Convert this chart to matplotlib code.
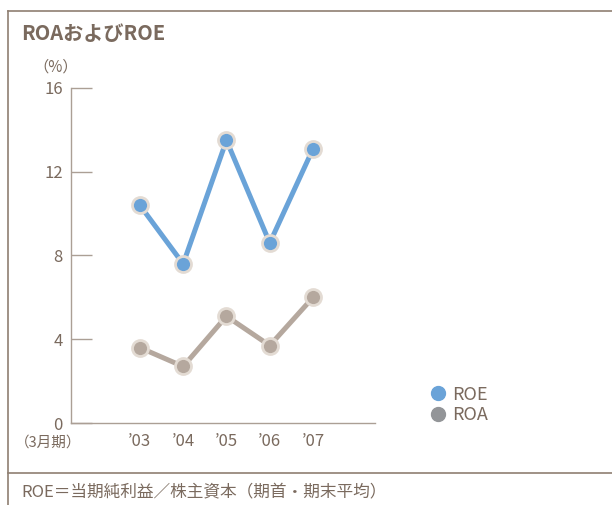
import matplotlib.pyplot as plt
from matplotlib.lines import Line2D

plt.rcParams['font.family'] = ['Noto Sans CJK JP', 'DejaVu Sans']

# fiscal years (March year-end) and ratios in %
years = ["’03", "’04", "’05", "’06", "’07"]
roe = [10.4, 7.6, 13.5, 8.6, 13.1]
roa = [3.6, 2.7, 5.1, 3.7, 6.0]
yticks = [0, 4, 8, 12, 16]

text_col = '#7a6a5e'
frame_col = '#8f7f72'
axis_col = '#ab9f95'
roe_col = '#6aa3d8'
roa_col = '#b5a89e'
edge_col = '#e3dbd3'

fig = plt.figure(figsize=(6.12, 5.05), dpi=100)

# outer frame lines
fig.add_artist(Line2D([8/612, 8/612], [0, 1 - 11/505], color=frame_col, lw=1.2))
fig.add_artist(Line2D([8/612, 1], [1 - 11/505, 1 - 11/505], color=frame_col, lw=1.2))
fig.add_artist(Line2D([8/612, 1], [1 - 473/505, 1 - 473/505], color=frame_col, lw=1.2))

fig.text(21/612, 1 - 33/505, 'ROAおよびROE', fontsize=14.5, fontweight='bold',
         color=text_col, va='center', ha='left')
fig.text(21/612, 1 - 492/505, 'ROE＝当期純利益／株主資本（期首・期末平均）', fontsize=12,
         color=text_col, va='center', ha='left')

ax = fig.add_axes([71/612, 1 - 423/505, (375 - 71)/612, (423 - 88)/505])
x = range(len(years))
ax.plot(x, roe, color=roe_col, lw=3.6, marker='o', ms=11.5,
        markerfacecolor=roe_col, markeredgecolor=edge_col, markeredgewidth=2, zorder=3)
ax.plot(x, roa, color=roa_col, lw=3.6, marker='o', ms=11.5,
        markerfacecolor=roa_col, markeredgecolor=edge_col, markeredgewidth=2, zorder=3)

ax.set_xlim(-1.59, 5.43)
ax.set_ylim(0, 16)
ax.set_yticks(yticks)
ax.set_xticks(list(x))
ax.set_xticklabels(years)
for s in ['top', 'right']:
    ax.spines[s].set_visible(False)
for s in ['left', 'bottom']:
    ax.spines[s].set_color(axis_col)
    ax.spines[s].set_linewidth(1)
ax.tick_params(axis='y', direction='in', length=15, width=1, color=axis_col,
               labelcolor=text_col, labelsize=12, pad=6)
ax.tick_params(axis='x', length=0, labelcolor=text_col, labelsize=12, pad=7)

fig.text(56/612, 1 - 67/505, '（%）', fontsize=11, color=text_col, ha='center', va='center')
fig.text(48/612, 1 - 443/505, '（3月期）', fontsize=10.5, color=text_col, ha='center', va='center')

# legend
handles = [Line2D([], [], ls='', marker='o', ms=10, color=roe_col),
           Line2D([], [], ls='', marker='o', ms=10, color='#939598')]
fig.legend(handles, ['ROE', 'ROA'], loc='center left', bbox_to_anchor=(415/612, 1 - 405/505),
           frameon=False, fontsize=13, labelcolor=text_col, handlelength=0.8,
           handletextpad=0.35, labelspacing=0.15)

fig.savefig('out.png', dpi=100)
